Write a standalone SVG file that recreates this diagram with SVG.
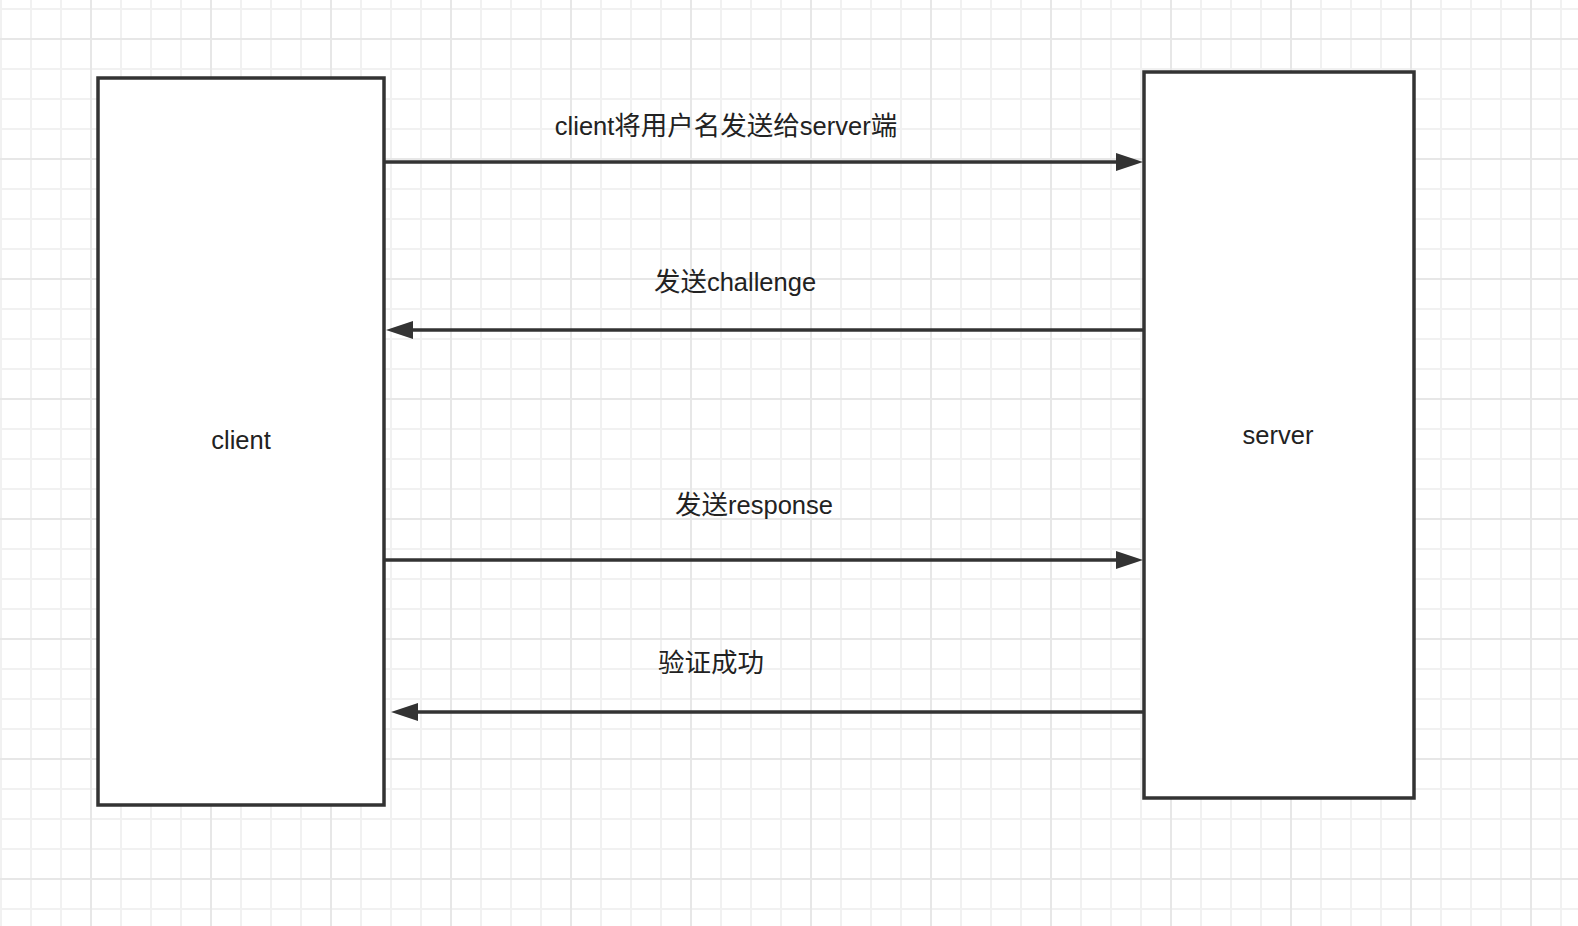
<svg xmlns="http://www.w3.org/2000/svg" width="1578" height="926" viewBox="0 0 1578 926">
  <style>
    .box { fill: #ffffff; stroke: #333333; stroke-width: 3.5; }
    .msg { fill: none; stroke: #333333; stroke-width: 3.5; marker-end: url(#head); }
    .lbl { font-family: "Liberation Sans", Arial, "Noto Sans CJK SC", sans-serif; font-size: 25.5px; fill: #222222; text-anchor: middle; }
    .cjk { font-family: "Noto Sans CJK SC", sans-serif; font-size: 26.5px; }
  </style>
  <defs>
    <!-- background grid: minor lines every 30px, heavier line every 120px -->
    <pattern id="grid" x="90" y="38" width="120" height="120" patternUnits="userSpaceOnUse">
      <rect x="0" y="0" width="120" height="120" fill="#ffffff"/>
      <g fill="#f1f1f1">
        <rect x="30" y="0" width="2" height="120"/>
        <rect x="60" y="0" width="2" height="120"/>
        <rect x="90" y="0" width="2" height="120"/>
        <rect x="0" y="30" width="120" height="2"/>
        <rect x="0" y="60" width="120" height="2"/>
        <rect x="0" y="90" width="120" height="2"/>
      </g>
      <g fill="#e7e7e7">
        <rect x="0" y="0" width="2" height="120"/>
        <rect x="0" y="0" width="120" height="2"/>
      </g>
    </pattern>
    <!-- filled triangular arrowhead, placed at the end of a shortened line -->
    <marker id="head" viewBox="0 -10 30 20" markerWidth="30" markerHeight="20" refX="0" refY="0" orient="auto" markerUnits="userSpaceOnUse" overflow="visible">
      <path d="M0,-9 L27,0 L0,9 Z" fill="#333333"/>
    </marker>
  </defs>

  <rect x="0" y="0" width="1578" height="926" fill="url(#grid)"/>

  <g id="client">
    <rect class="box" x="98" y="78" width="286" height="727"/>
    <text class="lbl" x="241" y="449">client</text>
  </g>

  <g id="server">
    <rect class="box" x="1144" y="72" width="270" height="726"/>
    <text class="lbl" x="1278" y="444">server</text>
  </g>

  <g id="connectors">
    <g id="send-username">
      <line class="msg" x1="384" y1="162" x2="1116" y2="162"/>
      <text class="lbl" x="726" y="135">client<tspan class="cjk">将用户名发送给</tspan>server<tspan class="cjk">端</tspan></text>
    </g>
    <g id="send-challenge">
      <line class="msg" x1="1144" y1="330" x2="413" y2="330"/>
      <text class="lbl" x="735" y="291"><tspan class="cjk">发送</tspan>challenge</text>
    </g>
    <g id="send-response">
      <line class="msg" x1="384" y1="560" x2="1116" y2="560"/>
      <text class="lbl" x="754" y="514"><tspan class="cjk">发送</tspan>response</text>
    </g>
    <g id="auth-ok">
      <line class="msg" x1="1144" y1="712" x2="418" y2="712"/>
      <text class="lbl" x="711" y="672"><tspan class="cjk">验证成功</tspan></text>
    </g>
  </g>
</svg>
